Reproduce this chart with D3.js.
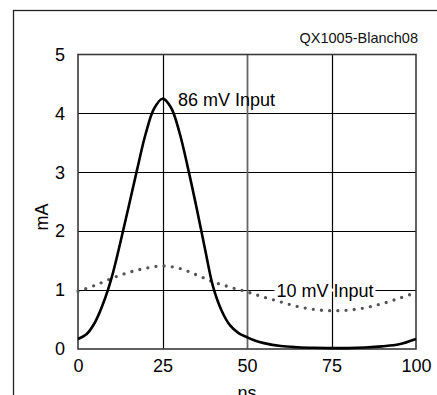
<!DOCTYPE html>
<html><head><meta charset="utf-8">
<script src="https://cdn.jsdelivr.net/npm/d3@7"></script>
<style>body{margin:0;background:#fff}svg{display:block;font-family:Arial,"Liberation Sans",sans-serif}</style>
</head><body>
<svg id="c" width="437" height="395"></svg>
<script>
const xTicks = [0, 25, 50, 75, 100];
const yTicks = [0, 1, 2, 3, 4, 5];
const solidX = [0, 2.5, 5, 7.5, 10, 12.5, 15, 17.5, 20, 22.5, 25, 27.5, 30, 32.5, 35, 37.5, 40, 42.5, 45, 47.5, 50, 52.5, 55, 60, 65, 70, 75, 80, 85, 90, 95, 100];
const solidY = [0.17, 0.25, 0.45, 0.78, 1.22, 1.8, 2.42, 3.05, 3.65, 4.08, 4.25, 4.1, 3.68, 3.08, 2.42, 1.72, 1.05, 0.65, 0.4, 0.27, 0.2, 0.14, 0.1, 0.05, 0.03, 0.02, 0.015, 0.015, 0.025, 0.045, 0.08, 0.17];
const dotX = [0, 5, 10, 15, 20, 25, 30, 35, 40, 45, 50, 55, 60, 65, 70, 75, 80, 85, 90, 95, 100];
const dotY = [0.98, 1.08, 1.2, 1.3, 1.37, 1.41, 1.37, 1.26, 1.14, 1.05, 0.97, 0.88, 0.8, 0.72, 0.67, 0.65, 0.66, 0.7, 0.77, 0.86, 0.96];
const seriesLabels = ["86 mV Input", "10 mV Input"];
const figId = "QX1005-Blanch08";
const xTitle = "ns", yTitle = "mA";

const svg = d3.select("#c");
const L = 78, R = 416, T = 54.5, B = 349;
const x = d3.scaleLinear().domain([0, 100]).range([L, R]);
const y = d3.scaleLinear().domain([0, 5]).range([B, T]);
const FF = "Arial, 'Liberation Sans', sans-serif";

// outer frame
svg.append("rect").attr("x", 13.5).attr("y", 10.5).attr("width", 440).attr("height", 400)
  .attr("fill", "none").attr("stroke", "#222").attr("stroke-width", 1.3);

svg.append("text").attr("x", 418).attr("y", 43).attr("text-anchor", "end")
  .attr("font-size", 14.5).attr("fill", "#111").text(figId);

// grid
const g = svg.append("g");
g.selectAll(".hg").data(yTicks.slice(1, -1)).join("line")
  .attr("x1", L).attr("x2", R).attr("y1", d => Math.round(y(d)) + 0.5).attr("y2", d => Math.round(y(d)) + 0.5)
  .attr("stroke", "#000").attr("stroke-width", 1.2);
g.selectAll(".vg").data(xTicks.slice(1, -1)).join("line")
  .attr("y1", T).attr("y2", B).attr("x1", d => Math.round(x(d)) + 0.5).attr("x2", d => Math.round(x(d)) + 0.5)
  .attr("stroke", d => d === 50 ? "#666" : "#000").attr("stroke-width", d => d === 50 ? 1.8 : 1.2);
g.append("rect").attr("x", L).attr("y", T).attr("width", R - L).attr("height", B - T)
  .attr("fill", "none").attr("stroke", "#3a3a3a").attr("stroke-width", 1.6);

// axes labels
const xa = svg.append("g").attr("transform", `translate(0,${B})`)
  .call(d3.axisBottom(x).tickValues(xTicks).tickSize(0).tickPadding(0).tickFormat(d3.format("d")));
xa.select(".domain").remove();
xa.selectAll("text").attr("font-size", 18).attr("font-family", FF)
  .attr("fill", "#000").attr("dy", "1.25em");
const ya = svg.append("g").attr("transform", `translate(${L},0)`)
  .call(d3.axisLeft(y).tickValues(yTicks).tickSize(0).tickPadding(13).tickFormat(d3.format("d")));
ya.select(".domain").remove();
ya.selectAll("text").attr("font-size", 18).attr("font-family", FF).attr("fill", "#000");

svg.append("text").attr("transform", "translate(48,217) rotate(-90)").attr("text-anchor", "middle")
  .attr("font-size", 18).text(yTitle);
svg.append("text").attr("x", 247).attr("y", 399).attr("text-anchor", "middle")
  .attr("font-size", 18).text(xTitle);

// series
const lineC = d3.line().x(d => x(d[0])).y(d => y(d[1])).curve(d3.curveCatmullRom);
svg.append("path").datum(dotX.map((v, i) => [v, dotY[i]])).attr("d", lineC)
  .attr("fill", "none").attr("stroke", "#555").attr("stroke-width", 3.3)
  .attr("stroke-linecap", "round").attr("stroke-dasharray", "0 8.2");
svg.append("path").datum(solidX.map((v, i) => [v, solidY[i]])).attr("d", lineC)
  .attr("fill", "none").attr("stroke", "#000").attr("stroke-width", 2.6).attr("stroke-linejoin", "round");

// labels
svg.append("text").attr("x", 178).attr("y", 106).attr("font-size", 18).attr("fill", "#000").text(seriesLabels[0]);
const bgRect = svg.append("rect").attr("fill", "#fff");
const t2 = svg.append("text").attr("x", 325).attr("y", y(1) + 6.5).attr("text-anchor", "middle")
  .attr("font-size", 18).attr("fill", "#000").text(seriesLabels[1]);
const bb = t2.node().getBBox();
bgRect.attr("x", bb.x - 2).attr("y", y(1) - 1.5).attr("width", bb.width + 4).attr("height", 3);
</script>
</body></html>
